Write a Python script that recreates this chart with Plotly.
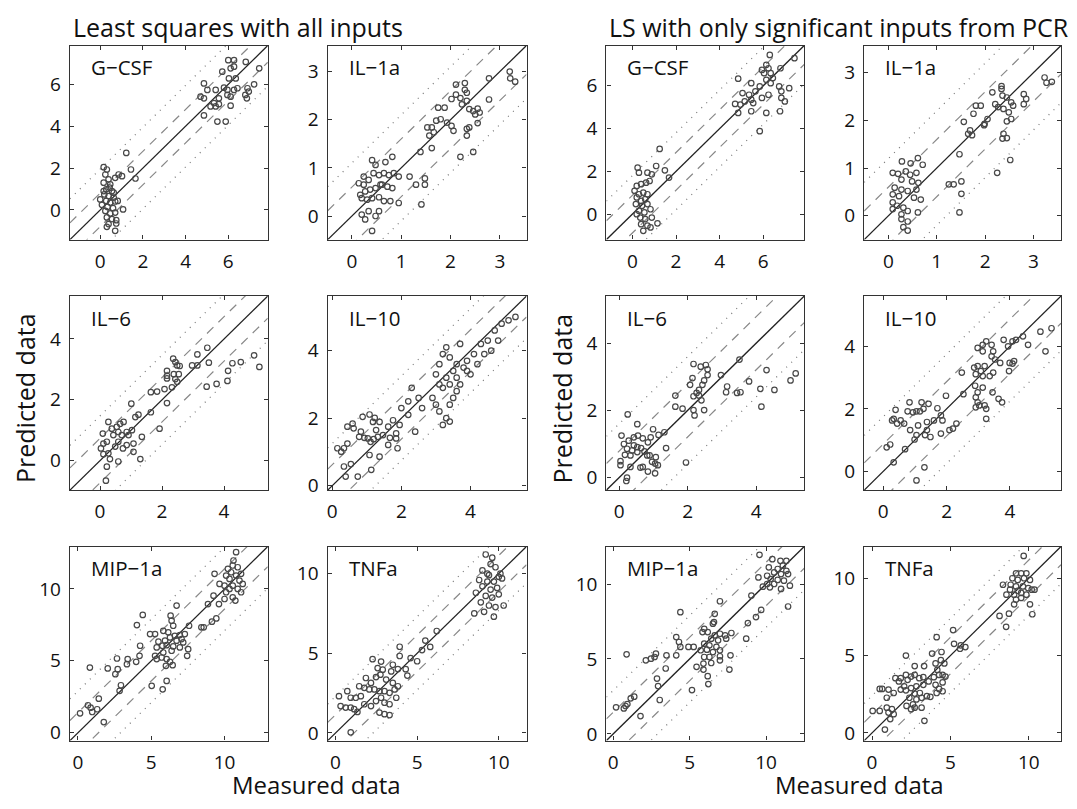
import plotly.graph_objects as go

W, H = 1077, 809

# ---------------- data ----------------
panel_names = ["G−CSF", "IL−1a", "G−CSF", "IL−1a",
               "IL−6", "IL−10", "IL−6", "IL−10",
               "MIP−1a", "TNFa", "MIP−1a", "TNFa"]

axis_ranges = [(-1.42, 7.85), (-0.49, 3.54), (-1.19, 7.88), (-0.5, 3.57),
               (-0.97, 5.41), (-0.13, 5.62), (-0.37, 5.4), (-0.6, 5.61),
               (-0.55, 12.95), (-0.48, 11.7), (-0.45, 12.5), (-0.5, 12.05)]

tick_values = [[0, 2, 4, 6], [0, 1, 2, 3], [0, 2, 4, 6], [0, 1, 2, 3],
               [0, 2, 4], [0, 2, 4], [0, 2, 4], [0, 2, 4],
               [0, 5, 10], [0, 5, 10], [0, 5, 10], [0, 5, 10]]

# residual bands (dashed = inner, dotted = outer)
band_inner = [0.8, 0.6, 0.88, 0.6, 0.73, 0.62, 0.79, 0.87, 1.4, 1.14, 1.45, 1.18]
band_outer = [1.95, 1.1, 1.8, 1.2, 1.47, 1.25, 1.6, 1.75, 2.9, 2.3, 2.9, 2.4]

gcsf_ls = [
    (6.0, 7.15), (6.27, 7.15), (6.82, 7.07), (5.72, 6.6), (6.11, 6.76), (6.27, 6.84), (7.45, 6.76),
    (6.03, 6.28), (6.35, 6.28), (4.86, 6.04), (5.02, 5.73), (5.41, 5.73), (5.8, 5.84), (5.96, 5.73),
    (6.27, 5.73), (6.43, 5.81), (6.9, 5.81), (7.21, 6.0), (6.96, 5.65), (6.8, 5.49), (6.87, 5.33),
    (4.7, 5.41), (4.86, 5.33), (5.96, 5.49), (6.11, 5.41), (5.33, 5.1), (5.17, 4.94), (5.41, 4.94),
    (5.56, 5.05), (6.11, 4.98), (4.86, 4.51), (5.49, 4.22), (5.88, 4.22), (5.56, 5.33),
    (0.16, 2.04), (0.31, 1.93), (0.24, 1.69), (0.39, 1.46), (0.16, 1.3), (0.47, 1.22), (0.28, 0.98),
    (0.55, 0.9), (0.19, 0.74), (0.39, 0.66), (0.63, 0.59), (0.28, 0.43), (0.47, 0.35), (0.7, 0.4),
    (0.08, 0.24), (0.34, 0.14), (0.6, 0.08), (0.24, -0.05), (0.47, -0.17), (0.7, -0.13),
    (0.31, -0.36), (0.55, -0.44), (0.75, -0.49), (0.39, -0.68), (0.31, -0.81), (0.7, -1.0),
    (0.75, -0.65), (0.86, 1.69), (1.02, 1.61), (0.7, 1.53), (1.22, 2.72), (1.44, 1.93), (1.65, 1.5),
    (1.07, 0.02), (0.16, 0.9), (0.44, 1.06), (0.63, 0.82), (0.82, 0.43), (0.0, 0.5),
]

il1a_ls = [
    (0.24, 0.82), (0.41, 1.16), (0.48, 1.06), (0.68, 1.12), (0.82, 1.23), (0.95, 0.82), (0.24, 0.65),
    (0.34, 0.75), (0.44, 0.89), (0.55, 0.85), (0.65, 0.89), (0.75, 0.85), (0.85, 0.89), (0.27, 0.51),
    (0.37, 0.55), (0.48, 0.58), (0.58, 0.65), (0.72, 0.61), (0.82, 0.58), (0.2, 0.37), (0.31, 0.34),
    (0.41, 0.37), (0.55, 0.39), (0.65, 0.31), (0.78, 0.31), (0.95, 0.27), (0.2, 0.03), (0.34, 0.1),
    (0.48, 0.0), (0.27, -0.07), (0.41, -0.31), (0.61, 0.65), (0.14, 0.68), (0.17, 0.44), (0.55, 0.1),
    (2.11, 2.73), (2.29, 2.76), (2.29, 2.62), (2.33, 2.56), (2.11, 2.52), (2.2, 2.45), (2.02, 2.43),
    (2.33, 2.39), (2.23, 2.32), (2.38, 2.22), (2.46, 2.18), (2.55, 2.23), (2.59, 2.15), (2.5, 2.11),
    (2.78, 2.86), (3.2, 3.0), (3.21, 2.86), (3.31, 2.79), (2.78, 2.42), (1.75, 2.25), (1.88, 2.25),
    (1.62, 1.84), (1.53, 1.84), (1.71, 1.98), (1.8, 2.01), (1.93, 1.94), (2.02, 1.87), (2.06, 1.77),
    (1.66, 1.74), (1.57, 1.67), (2.33, 1.81), (2.38, 1.84), (2.55, 1.93), (2.33, 1.67), (1.39, 1.33),
    (1.62, 1.41), (2.2, 1.23), (2.46, 1.33), (1.17, 0.82), (1.3, 0.65), (1.48, 0.78), (1.48, 0.65),
    (1.41, 0.24),
]

gcsf_pcr = [
    (6.3, 7.44), (7.43, 7.29), (6.14, 6.98), (6.24, 6.82), (5.94, 6.74), (6.04, 6.59), (6.34, 6.59),
    (6.79, 6.82), (6.44, 6.36), (6.14, 6.28), (4.85, 6.33), (5.45, 6.12), (5.84, 5.97), (6.34, 6.12),
    (6.73, 5.97), (7.19, 5.89), (5.05, 5.66), (5.35, 5.58), (5.64, 5.74), (6.24, 5.58), (6.83, 5.74),
    (6.83, 5.43), (6.99, 5.27), (4.71, 5.15), (4.95, 5.12), (5.15, 5.27), (5.45, 5.35), (5.54, 5.19),
    (5.94, 5.43), (4.85, 4.73), (5.45, 4.81), (6.14, 4.73), (6.77, 4.81), (5.84, 3.88),
    (0.24, 2.17), (0.3, 1.94), (0.69, 1.94), (1.09, 2.25), (1.25, 3.05), (1.49, 2.05), (1.68, 1.71),
    (0.89, 1.86), (0.2, 1.32), (0.4, 1.4), (0.63, 1.47), (0.79, 1.55), (0.1, 1.09), (0.3, 0.93),
    (0.5, 1.01), (0.69, 0.93), (0.2, 0.78), (0.4, 0.62), (0.59, 0.7), (0.16, 0.47), (0.44, 0.39),
    (0.69, 0.47), (0.3, 0.16), (0.55, 0.08), (0.83, 0.23), (0.36, -0.16), (0.59, -0.23), (0.89, -0.16),
    (0.4, -0.47), (0.69, -0.54), (1.15, -0.43), (0.5, -0.78), (0.83, -0.62), (0.2, 0.0),
]

il1a_pcr = [
    (3.23, 2.9), (3.27, 2.79), (3.38, 2.81), (2.8, 2.55), (2.85, 2.45), (2.8, 2.34), (2.34, 2.72),
    (2.34, 2.66), (2.15, 2.59), (2.36, 2.52), (2.45, 2.48), (2.54, 2.38), (2.58, 2.31), (1.81, 2.31),
    (1.91, 2.31), (2.21, 2.34), (2.27, 2.28), (2.38, 2.24), (2.49, 2.17), (2.54, 2.03), (2.45, 1.98),
    (1.56, 1.97), (1.76, 2.14), (1.99, 1.93), (2.05, 2.03), (1.98, 1.9), (1.69, 1.79), (1.65, 1.72),
    (1.73, 1.69), (2.38, 1.72), (2.36, 1.62), (2.45, 1.63), (2.25, 0.9), (2.52, 1.17), (1.47, 1.29),
    (1.25, 0.66), (1.35, 0.66), (1.51, 0.72), (1.51, 0.46), (1.47, 0.07),
    (0.28, 1.14), (0.46, 1.1), (0.61, 1.21), (0.71, 1.07), (0.09, 0.9), (0.2, 0.88), (0.36, 0.93),
    (0.45, 0.86), (0.58, 0.9), (0.27, 0.76), (0.49, 0.72), (0.62, 0.69), (0.13, 0.59), (0.27, 0.55),
    (0.4, 0.52), (0.58, 0.55), (0.09, 0.45), (0.22, 0.41), (0.53, 0.38), (0.67, 0.34), (0.09, 0.28),
    (0.18, 0.21), (0.31, 0.17), (0.09, 0.14), (0.27, 0.03), (0.4, 0.1), (0.61, 0.07), (0.27, -0.07),
    (0.4, -0.12), (0.31, -0.24), (0.4, -0.31),
]

il6_ls = [
    (4.97, 3.46), (5.14, 3.08), (4.54, 3.24), (4.27, 3.2), (4.13, 2.95), (4.11, 2.62), (3.76, 2.52),
    (3.44, 2.43), (3.46, 3.71), (3.51, 3.22), (3.14, 3.49), (3.14, 3.13), (2.97, 3.13), (2.36, 3.35),
    (2.43, 3.24), (2.49, 3.13), (2.57, 3.11), (2.16, 2.95), (2.16, 2.79), (2.16, 2.7), (2.38, 2.84),
    (2.43, 2.68), (2.54, 2.84), (2.49, 2.59), (2.32, 2.41), (2.08, 2.35), (2.16, 1.89), (1.84, 2.27),
    (1.64, 2.25), (1.64, 1.59), (1.92, 1.05), (1.01, 1.87), (1.24, 1.51), (1.14, 1.43), (1.35, 0.78),
    (1.3, 0.05), (1.08, 0.29), (1.08, 0.56), (0.86, 0.51), (0.92, 0.84), (1.03, 1.0), (0.76, 1.27),
    (0.65, 1.21), (0.54, 1.11), (0.38, 1.05), (0.27, 1.27), (0.43, 0.84), (0.59, 0.94), (0.7, 0.84),
    (0.86, 0.94), (0.09, 0.89), (0.11, 0.56), (0.22, 0.62), (0.03, 0.4), (0.11, 0.21), (0.27, 0.24),
    (0.49, 0.46), (0.59, 0.62), (0.74, 0.4), (0.32, 0.05), (0.22, -0.2), (0.59, -0.03), (0.19, -0.66),
]

il10_ls = [
    (0.15, 1.11), (0.26, 1.01), (0.34, 1.11), (0.44, 1.25), (0.44, 1.75), (0.59, 1.84), (0.62, 1.7),
    (0.34, 0.57), (0.54, 0.64), (0.39, 0.27), (0.74, 0.27), (0.88, 2.04), (1.08, 2.11), (1.23, 2.01),
    (1.37, 1.89), (1.18, 1.89), (1.27, 1.65), (0.83, 1.6), (0.78, 1.45), (0.93, 1.42), (1.03, 1.4),
    (1.2, 1.38), (1.11, 1.3), (1.32, 1.45), (1.47, 1.5), (1.62, 1.75), (1.67, 1.42), (1.76, 1.94),
    (1.85, 1.55), (1.85, 1.4), (1.89, 1.11), (1.62, 1.21), (1.08, 0.91), (1.37, 0.86), (1.13, 0.47),
    (2.2, 2.5), (2.3, 2.9), (2.5, 2.6), (2.0, 2.3), (2.2, 2.1), (2.6, 2.3), (1.95, 1.8), (2.4, 1.6),
    (3.0, 3.3), (3.1, 3.6), (3.2, 3.9), (3.3, 4.1), (3.4, 3.8), (3.5, 3.4), (3.6, 3.2), (3.7, 3.0),
    (3.2, 2.9), (3.0, 2.4), (3.1, 2.2), (3.3, 2.0), (3.4, 2.4), (3.5, 2.6), (3.6, 2.8), (3.8, 3.5),
    (3.9, 3.7), (3.1, 3.0), (3.3, 3.2), (3.4, 3.0), (3.6, 3.6), (3.7, 4.2), (3.9, 3.4), (2.9, 2.6),
    (3.2, 1.8), (3.4, 1.9), (4.1, 3.9), (4.3, 4.2), (4.5, 4.3), (4.7, 4.6), (4.9, 4.8), (5.1, 4.9),
    (5.3, 5.0), (4.4, 3.9), (4.6, 4.0), (4.2, 3.6), (4.0, 3.3), (4.8, 4.3),
]

il6_pcr = [
    (5.15, 3.1), (5.0, 2.89), (4.3, 3.2), (4.53, 2.61), (4.12, 2.64), (4.15, 2.11), (3.79, 2.86),
    (3.51, 3.51), (3.54, 2.54), (3.44, 2.52), (3.15, 2.71), (3.12, 2.54), (2.97, 3.05), (2.17, 3.38),
    (2.38, 3.3), (2.53, 3.35), (2.58, 3.22), (2.58, 3.05), (2.48, 2.89), (2.43, 2.76), (2.14, 2.96),
    (2.07, 2.76), (2.33, 2.61), (2.26, 2.52), (2.17, 2.42), (2.33, 2.44), (2.4, 2.3), (2.17, 2.01),
    (2.2, 1.85), (2.48, 2.01), (1.64, 2.44), (1.64, 2.11), (1.85, 2.05), (1.95, 0.45), (1.32, 1.35),
    (1.37, 0.88), (0.99, 1.44), (1.15, 1.27), (0.92, 1.2), (0.84, 1.05), (0.25, 1.88), (0.53, 1.59),
    (0.07, 1.25), (0.14, 1.0), (0.28, 1.1), (0.43, 1.2), (0.55, 1.25), (0.69, 1.17), (0.43, 0.96),
    (0.23, 0.86), (0.38, 0.81), (0.53, 0.91), (0.64, 0.88), (0.74, 0.78), (0.17, 0.68), (0.33, 0.66),
    (0.53, 0.76), (0.82, 0.66), (0.04, 0.49), (0.04, 0.37), (0.33, 0.32), (0.62, 0.3), (0.69, 0.32),
    (0.89, 0.66), (0.84, 0.18), (0.96, 0.47), (1.05, 0.42), (1.07, 0.61), (1.13, 0.37), (1.05, 0.13),
    (0.23, 0.0), (0.21, -0.1),
]

il10_pcr = [
    (5.31, 4.58), (4.96, 4.47), (5.12, 3.84), (4.41, 4.32), (4.19, 4.21), (4.08, 4.16), (3.8, 4.21),
    (4.57, 4.05), (3.94, 4.0), (2.98, 3.95), (3.14, 4.05), (3.25, 4.16), (3.42, 4.05), (3.14, 3.84),
    (3.47, 3.84), (3.42, 3.68), (3.53, 3.58), (3.69, 3.47), (3.99, 3.47), (4.08, 3.45), (4.13, 3.53),
    (3.97, 3.21), (2.87, 3.32), (2.98, 3.37), (3.2, 3.37), (2.92, 3.11), (3.14, 3.05), (3.36, 3.05),
    (3.47, 3.16), (3.08, 3.21), (2.9, 2.74), (3.14, 2.68), (3.45, 2.53), (2.98, 2.53), (2.92, 2.37),
    (2.98, 2.21), (3.03, 2.11), (2.92, 2.05), (3.2, 2.11), (3.25, 2.0), (3.25, 1.68), (3.64, 2.32),
    (3.75, 2.21), (2.48, 3.16), (2.53, 2.47), (1.98, 2.42), (2.31, 1.53), (2.2, 1.37), (2.09, 1.32),
    (1.82, 1.21), (1.87, 1.63), (1.82, 1.79), (1.71, 2.02), (1.43, 2.16), (1.21, 2.21), (1.27, 2.0),
    (1.16, 1.92), (1.05, 1.92), (0.83, 2.21), (0.77, 1.92), (0.94, 1.89), (0.39, 1.97), (0.33, 1.68),
    (0.28, 1.63), (0.55, 1.63), (0.44, 1.53), (0.66, 1.53), (0.85, 1.32), (1.1, 1.47), (1.38, 1.58),
    (1.6, 1.63), (1.38, 1.32), (1.05, 1.16), (1.32, 1.16), (1.49, 1.1), (0.99, 1.02), (0.11, 0.77),
    (0.22, 0.86), (0.69, 0.71), (0.33, 0.29), (1.3, 0.13), (1.05, -0.29),
]

mip1a_ls = [
    (10.79, 12.56), (10.61, 11.98), (10.56, 11.63), (10.23, 11.4), (10.9, 11.51), (11.13, 11.05),
    (10.45, 11.16), (10.11, 10.93), (10.79, 10.93), (10.34, 10.7), (11.02, 10.58), (9.66, 10.35),
    (10.0, 10.23), (10.56, 10.23), (11.24, 10.35), (10.34, 10.0), (10.9, 10.0), (10.11, 9.77),
    (11.13, 9.77), (10.56, 9.42), (10.74, 9.19), (10.0, 9.3), (9.32, 11.05), (9.25, 9.53),
    (9.62, 8.95), (8.87, 8.95), (9.44, 7.95), (9.14, 7.72), (8.42, 7.33), (8.58, 7.33),
    (6.73, 8.84), (6.32, 8.14), (6.39, 7.79), (6.5, 7.44), (7.58, 7.44), (5.82, 7.09), (6.16, 6.98),
    (6.28, 6.63), (6.61, 6.74), (6.95, 6.79), (7.29, 6.86), (6.73, 6.4), (7.07, 6.51), (7.18, 6.28),
    (5.94, 6.4), (5.49, 6.33), (6.05, 6.09), (5.76, 6.05), (5.37, 5.93), (6.5, 6.0), (6.95, 5.93),
    (6.39, 5.7), (5.82, 5.58), (5.26, 5.35), (5.71, 5.23), (5.37, 5.12), (6.05, 5.12), (6.28, 4.93),
    (6.46, 4.7), (6.0, 4.65), (7.45, 5.35), (7.52, 5.81), (4.92, 6.86), (5.26, 6.86), (5.03, 3.26),
    (5.78, 3.02), (6.05, 3.6), (4.42, 8.19), (4.02, 7.49), (4.24, 6.05), (4.2, 5.35), (3.97, 4.93),
    (3.39, 5.12), (3.34, 4.77), (2.66, 5.16), (2.71, 4.42), (2.55, 4.07), (2.03, 4.47), (0.81, 4.53),
    (2.93, 3.3), (2.84, 2.91), (1.31, 1.63), (1.42, 2.37), (0.68, 1.91), (0.86, 1.74), (0.97, 1.44),
    (0.14, 1.35), (1.76, 0.74),
]

tnfa_ls = [
    (2.27, 4.63), (2.79, 4.48), (3.51, 4.28), (3.93, 4.83), (2.58, 4.07), (2.89, 3.97), (3.41, 3.86),
    (3.82, 4.01), (1.86, 3.45), (2.17, 3.14), (2.48, 3.51), (2.75, 3.66), (3.1, 3.35), (3.51, 3.14),
    (3.82, 2.93), (1.45, 2.93), (1.76, 2.83), (2.07, 2.73), (2.38, 2.73), (2.69, 2.62), (3.0, 2.62),
    (3.31, 2.52), (3.62, 2.73), (0.72, 2.62), (0.93, 2.21), (1.24, 2.21), (1.55, 2.31), (0.21, 2.31),
    (0.31, 1.69), (0.62, 1.59), (0.93, 1.59), (1.14, 1.49), (1.34, 1.32), (2.17, 1.69), (2.48, 2.0),
    (2.79, 2.21), (3.0, 1.9), (3.31, 1.8), (2.69, 1.28), (3.0, 1.18), (3.31, 1.12), (0.93, 0.04),
    (1.76, 1.8), (3.72, 2.21), (3.93, 5.41),
    (4.3, 4.0), (4.6, 4.7), (5.0, 4.5), (5.3, 5.2), (5.5, 5.8), (6.2, 6.4), (5.8, 5.4), (4.4, 3.6),
    (9.2, 11.2), (9.6, 11.0), (9.5, 10.6), (9.0, 10.2), (9.8, 10.4), (10.1, 10.0), (9.4, 9.9),
    (8.8, 9.6), (9.3, 9.5), (9.7, 9.5), (10.2, 9.7), (9.0, 9.2), (9.5, 9.0), (9.9, 9.1), (8.6, 8.8),
    (9.2, 8.6), (9.6, 8.5), (10.0, 8.7), (8.9, 8.2), (9.4, 8.0), (9.8, 7.9), (8.5, 7.5), (9.1, 7.6),
    (10.3, 8.0), (9.7, 7.3), (10.0, 9.8), (9.3, 10.0),
]

mip1a_pcr = [
    (9.57, 11.95), (10.41, 11.66), (10.94, 11.55), (11.33, 11.55), (11.1, 11.22), (10.76, 11.0),
    (11.33, 10.88), (10.18, 11.11), (10.53, 10.77), (10.98, 10.66), (11.44, 10.66), (10.07, 10.55),
    (9.5, 10.44), (10.3, 10.33), (10.76, 10.27), (11.17, 10.22), (10.07, 10.0), (10.53, 10.0),
    (10.25, 9.78), (10.98, 9.67), (11.56, 9.89), (9.79, 9.82), (11.44, 8.5), (9.68, 8.27),
    (9.34, 7.79), (9.04, 9.23), (8.81, 7.39), (8.7, 6.35), (6.98, 8.85), (6.64, 8.01), (6.59, 7.46),
    (6.52, 7.35), (5.95, 7.01), (5.84, 6.79), (6.18, 6.79), (6.64, 6.57), (6.98, 6.68), (7.32, 6.57),
    (7.73, 6.73), (6.41, 6.35), (6.86, 6.24), (7.39, 6.35), (5.95, 6.02), (6.29, 5.91), (6.75, 5.8),
    (5.72, 5.58), (6.13, 5.62), (6.52, 5.46), (6.98, 5.58), (5.95, 5.13), (6.29, 5.13), (6.98, 5.18),
    (7.67, 5.24), (5.9, 4.69), (6.41, 4.73), (6.98, 4.91), (7.6, 4.29), (5.45, 4.47), (5.9, 4.29),
    (6.18, 3.85), (6.22, 3.32), (5.15, 2.92), (5.26, 5.8), (4.92, 5.8), (4.12, 6.46), (4.3, 6.13),
    (4.39, 8.12), (4.39, 5.8), (4.12, 5.24), (3.48, 5.24), (3.43, 4.36), (2.79, 5.35), (2.7, 5.13),
    (2.47, 5.02), (2.13, 4.91), (0.87, 5.31), (2.86, 3.69), (2.93, 3.19), (3.04, 2.26), (1.37, 2.48),
    (0.8, 1.86), (0.92, 1.99), (0.69, 1.7), (0.18, 1.77), (1.78, 1.19), (1.14, 2.37),
]

tnfa_pcr = [
    (9.67, 11.44), (9.18, 10.32), (9.51, 10.32), (9.84, 10.32), (8.95, 10.0), (9.29, 9.89),
    (9.69, 10.0), (10.07, 9.89), (8.35, 9.58), (8.84, 9.58), (9.18, 9.47), (9.62, 9.47), (9.96, 9.36),
    (8.8, 9.26), (9.29, 9.19), (10.18, 9.26), (10.36, 9.26), (8.57, 8.94), (9.06, 8.94), (9.51, 9.05),
    (9.84, 8.94), (9.18, 8.62), (9.51, 8.73), (9.06, 8.31), (10.07, 8.31), (10.22, 7.67), (8.73, 7.71),
    (8.13, 7.56), (8.55, 6.86), (5.17, 6.65), (4.12, 6.19), (5.23, 5.76), (5.66, 5.66), (5.95, 5.55),
    (5.61, 5.44), (3.83, 5.13), (4.43, 5.23), (2.16, 5.0), (4.39, 4.7), (4.05, 4.49), (4.61, 4.49),
    (4.16, 4.07), (4.5, 3.75), (4.28, 3.75), (4.68, 3.64), (3.94, 3.6), (4.05, 3.11), (4.5, 3.26),
    (4.28, 2.84), (4.12, 2.58), (3.32, 4.32), (2.72, 4.32), (2.72, 3.75), (2.49, 3.64), (2.16, 3.75),
    (1.83, 3.54), (1.49, 3.54), (1.71, 3.33), (2.27, 3.43), (3.01, 3.54), (3.27, 3.6), (3.61, 3.33),
    (3.27, 3.11), (2.83, 3.01), (2.49, 2.9), (2.05, 3.01), (1.83, 2.8), (2.16, 2.75), (1.05, 2.8),
    (0.49, 2.84), (0.65, 2.84), (1.38, 2.58), (0.94, 2.27), (2.72, 2.54), (3.05, 2.58), (3.5, 2.37),
    (3.72, 2.33), (2.38, 2.27), (2.83, 2.16), (3.16, 2.27), (2.61, 1.84), (2.2, 1.74), (2.49, 1.53),
    (2.72, 1.63), (3.16, 1.63), (0.94, 1.63), (1.27, 1.53), (1.05, 1.31), (1.38, 1.21), (1.16, 0.89),
    (0.04, 1.42), (0.49, 1.42), (3.34, 0.78), (0.82, 0.21), (4.5, 2.69),
]

panel_points = [gcsf_ls, il1a_ls, gcsf_pcr, il1a_pcr,
                il6_ls, il10_ls, il6_pcr, il10_pcr,
                mip1a_ls, tnfa_ls, mip1a_pcr, tnfa_pcr]

# ---------------- layout geometry (pixels) ----------------
col_px = [(69, 267), (327, 526), (606, 804), (864, 1061)]
row_px = [(46, 242), (299, 495), (552, 748)]

FONT = "Open Sans"
fig = go.Figure()
layout = dict(width=W, height=H, margin=dict(l=0, r=0, t=0, b=0),
              paper_bgcolor="white", plot_bgcolor="white", showlegend=False,
              font=dict(family=FONT, color="#111111"))
annotations = []

for i in range(12):
    r, c = divmod(i, 4)
    k = "" if i == 0 else str(i + 1)
    lo, hi = axis_ranges[i]
    xd = [col_px[c][0] / W, col_px[c][1] / W]
    yd = [1 - row_px[r][1] / H, 1 - row_px[r][0] / H]
    ax_common = dict(range=[lo, hi], tickvals=tick_values[i], ticks="inside", ticklen=4,
                     tickwidth=1, tickcolor="#333", mirror="ticks", showline=True,
                     linecolor="#333", linewidth=1.3, showgrid=False, zeroline=False,
                     ticklabelstandoff=4,
                     tickfont=dict(size=19, family=FONT, color="#111"))
    layout["xaxis" + k] = dict(domain=xd, anchor="y" + k, **ax_common)
    layout["yaxis" + k] = dict(domain=yd, anchor="x" + k, **ax_common)
    xa, ya = "x" + k, "y" + k

    d1, d2 = band_inner[i], band_outer[i]
    for off, dash, col in [(d2, "1px,6px", "#777"), (-d2, "1px,6px", "#777"),
                           (d1, "9px,7px", "#888"), (-d1, "9px,7px", "#888")]:
        fig.add_trace(go.Scatter(x=[lo, hi], y=[lo + off, hi + off], mode="lines",
                                 line=dict(color=col, width=1.2, dash=dash),
                                 xaxis=xa, yaxis=ya, hoverinfo="skip"))
    fig.add_trace(go.Scatter(x=[lo, hi], y=[lo, hi], mode="lines",
                             line=dict(color="#222", width=1.3),
                             xaxis=xa, yaxis=ya, hoverinfo="skip"))
    pts = panel_points[i]
    fig.add_trace(go.Scatter(x=[p[0] for p in pts], y=[p[1] for p in pts], mode="markers",
                             marker=dict(symbol="circle-open", size=5.5, color="#484848",
                                         line=dict(width=1.2, color="#484848")),
                             xaxis=xa, yaxis=ya))
    annotations.append(dict(text=panel_names[i], xref="paper", yref="paper",
                            x=(col_px[c][0] + 19) / W, y=1 - (row_px[r][0] + 22) / H,
                            xanchor="left", yanchor="middle", showarrow=False,
                            font=dict(size=20.5, family=FONT, color="#111")))

titles = [("Least squares with all inputs", 70), ("LS with only significant inputs from PCR", 607)]
for txt, xp in titles:
    annotations.append(dict(text=txt, xref="paper", yref="paper", x=xp / W, y=1 - 27 / H,
                            xanchor="left", yanchor="middle", showarrow=False,
                            font=dict(size=25, family=FONT, color="#111")))
for xp in (316, 859):
    annotations.append(dict(text="Measured data", xref="paper", yref="paper", x=xp / W,
                            y=1 - 792 / H, xanchor="center", yanchor="middle", showarrow=False,
                            font=dict(size=24, family=FONT, color="#111")))
for xp in (24, 562):
    annotations.append(dict(text="Predicted data", xref="paper", yref="paper", x=xp / W,
                            y=1 - 402 / H, xanchor="center", yanchor="middle", showarrow=False,
                            textangle=-90, font=dict(size=25, family=FONT, color="#111")))

layout["annotations"] = annotations
fig.update_layout(**layout)
fig.write_html("out.html", config={"displayModeBar": False},
               post_script="document.body.style.margin='0';document.body.style.overflow='hidden';")
